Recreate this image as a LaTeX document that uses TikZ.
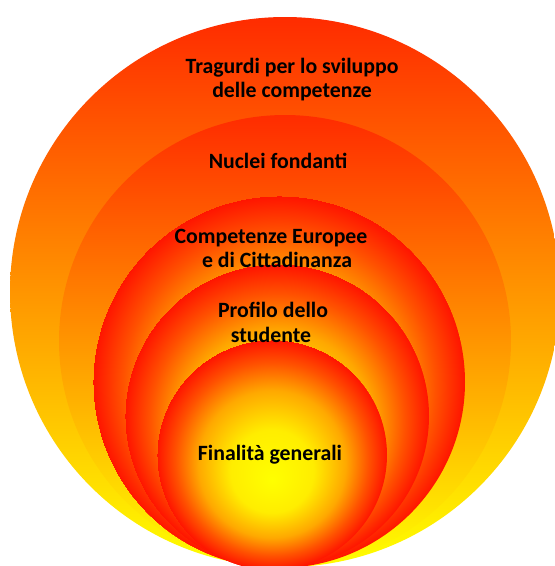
\documentclass[tikz,border=0pt]{standalone}
\usepackage{fontspec}
\setmainfont{Carlito}
\pgfdeclareradialshading{sunball}{\pgfpoint{0bp}{-5.5bp}}{rgb(0bp)=(1,1,0); rgb(9bp)=(1,0.93,0); rgb(16bp)=(1,0.66,0); rgb(21bp)=(1,0.32,0); rgb(25bp)=(1,0.08,0)}
\tikzset{
  ring/.style={top color={rgb,1:red,1;green,0.17;blue,0}, bottom color={rgb,1:red,1;green,1;blue,0}, draw=none},
  ball/.style={shading=sunball, draw=none},
  lbl/.style={anchor=base, inner sep=0pt, font=\bfseries\fontsize{21.8}{24}\selectfont, text=black}
}
\begin{document}
\begin{tikzpicture}[x=1pt,y=-1pt]
\useasboundingbox (0,0) rectangle (555,566);
\clip (0,0) rectangle (555,566);
\fill[white] (0,0) rectangle (555,566);
\path[ring] (285,292) circle (275pt);
\path[ring] (285,341) circle (226pt);
\path[ball] (279,382) circle (186pt);
\path[ball] (277,416) circle (152pt);
\path[ball] (272,455) circle (115pt);
\node[lbl] (tragA) at (292,73) {Tragurdi per lo sviluppo};
\node[lbl] (tragB) at (292,97) {delle competenze};
\node[lbl] (nuclei) at (278,168) {Nuclei fondanti};
\node[lbl] (compA) at (271,243) {Competenze Europee};
\node[lbl] (compB) at (277,267) {e di Cittadinanza};
\node[lbl] (profA) at (273,317) {Profilo dello};
\node[lbl] (profB) at (271,342) {studente};
\node[lbl] (final) at (270,460) {Finalità generali};
\end{tikzpicture}
\end{document}
